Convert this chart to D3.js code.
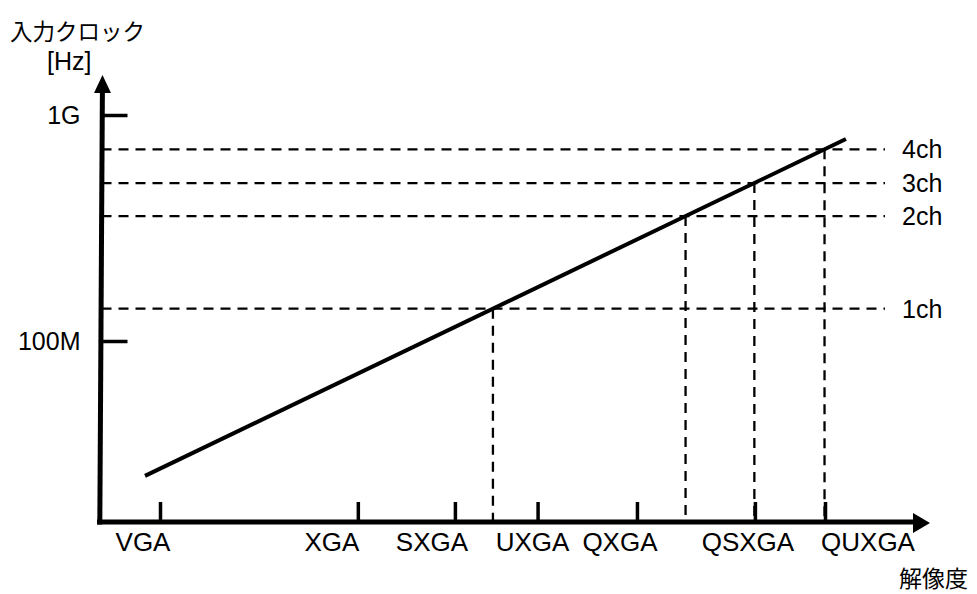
<!DOCTYPE html>
<html>
<head>
<meta charset="utf-8">
<script src="https://cdn.jsdelivr.net/npm/d3@7"></script>
<style>
  html, body { margin: 0; padding: 0; background: #fff; }
  svg { display: block; }
</style>
</head>
<body>
<svg id="chart" width="977" height="594"></svg>
<script>
// ---------- data ----------
const categories = ["VGA", "XGA", "SXGA", "UXGA", "QXGA", "QSXGA", "QUXGA"];
const categoryMegapixels = [0.307, 0.80, 1.28, 1.91, 3.09, 5.47, 7.68];
const channelLabels = ["1ch", "2ch", "3ch", "4ch"];
const channelMHz = [139, 357, 500, 705];
const yTickValues = [100, 1000];
const yTickLabels = ["100M", "1G"];
const clockLineMegapixels = [0.2855, 8.50];
const clockLineMHz = [25.3, 783];

// ---------- layout ----------
const W = 977, H = 594;
const LATIN = "'Liberation Sans', Arial, sans-serif";
const CJK = "'Noto Sans CJK JP', 'Noto Sans CJK SC', sans-serif";
const axisY = 522, axisX = 101.5;
const labelDx = [-17.5, -26.5, -23.5, -5.5, -17.5, -7.5, 42.5];

const svg = d3.select("#chart");
svg.append("rect").attr("width", W).attr("height", H).attr("fill", "#fff");

const x = d3.scaleLog().domain([categoryMegapixels[0], categoryMegapixels[6]]).range([160, 825]);
const y = d3.scaleLog().domain([100, 1000]).range([341, 115]);

// intersection of clock line with a frequency (linear in log-log space)
function lineXAt(f) {
  const l = Math.log10;
  const t = (l(f) - l(clockLineMHz[0])) / (l(clockLineMHz[1]) - l(clockLineMHz[0]));
  const lv = l(clockLineMegapixels[0]) + t * (l(clockLineMegapixels[1]) - l(clockLineMegapixels[0]));
  return Math.pow(10, lv);
}

// dashed horizontal lines
const dash = "10,7";
svg.append("g").selectAll("line.h").data(channelMHz).join("line")
  .attr("x1", axisX).attr("x2", 885)
  .attr("y1", d => y(d)).attr("y2", d => y(d))
  .attr("stroke", "#000").attr("stroke-width", 2.3).attr("stroke-dasharray", dash);

// dashed vertical drops
svg.append("g").selectAll("line.v").data(channelMHz).join("line")
  .attr("x1", d => x(lineXAt(d))).attr("x2", d => x(lineXAt(d)))
  .attr("y1", d => y(d)).attr("y2", axisY)
  .attr("stroke", "#000").attr("stroke-width", 2.3).attr("stroke-dasharray", dash);

// channel labels
svg.append("g").selectAll("text").data(channelMHz).join("text")
  .attr("x", 902).attr("y", d => y(d) + 9)
  .attr("font-family", LATIN).attr("font-size", 25).attr("fill", "#000")
  .text((d, i) => channelLabels[i]);

// clock line
const pts = clockLineMegapixels.map((v, i) => [x(v), y(clockLineMHz[i])]);
svg.append("path").attr("d", d3.line()(pts))
  .attr("stroke", "#000").attr("stroke-width", 4).attr("fill", "none");

// x axis (ticks + labels)
const xAxis = d3.axisBottom(x).tickValues(categoryMegapixels)
  .tickFormat((d, i) => categories[i]).tickSize(-20).tickPadding(11);
const gx = svg.append("g").attr("transform", `translate(0,${axisY})`).call(xAxis);
gx.select(".domain").remove();
gx.selectAll(".tick line").attr("stroke", "#000").attr("stroke-width", 3.5);
gx.selectAll(".tick text").attr("font-family", LATIN).attr("font-size", 26).attr("fill", "#000")
  .attr("x", (d, i) => labelDx[i]);

// y axis (ticks + labels)
const yAxis = d3.axisLeft(y).tickValues(yTickValues)
  .tickFormat((d, i) => yTickLabels[i]).tickSize(-26).tickPadding(21);
const gy = svg.append("g").attr("transform", `translate(${axisX},0)`).call(yAxis);
gy.select(".domain").remove();
gy.selectAll(".tick line").attr("stroke", "#000").attr("stroke-width", 3.5);
gy.selectAll(".tick text").attr("font-family", LATIN).attr("font-size", 25).attr("fill", "#000");

// axis shafts and arrowheads
svg.append("line").attr("x1", 97).attr("y1", axisY).attr("x2", 915).attr("y2", axisY)
  .attr("stroke", "#000").attr("stroke-width", 5);
svg.append("path").attr("d", "M930,523 L913,513 L913,533 Z").attr("fill", "#000");
svg.append("line").attr("x1", 99.8).attr("y1", 524.5).attr("x2", 102.4).attr("y2", 90)
  .attr("stroke", "#000").attr("stroke-width", 5);
svg.append("path").attr("d", "M102.5,75 L94,93 L111,93 Z").attr("fill", "#000");

// axis titles
svg.append("text").attr("x", 10).attr("y", 30).attr("dominant-baseline", "central")
  .attr("font-family", CJK).attr("font-size", 22.5).attr("fill", "#000").text("入力クロック");
svg.append("text").attr("x", 47).attr("y", 70)
  .attr("font-family", LATIN).attr("font-size", 25).attr("fill", "#000").text("[Hz]");
svg.append("text").attr("x", 899).attr("y", 577).attr("dominant-baseline", "central")
  .attr("font-family", CJK).attr("font-size", 23).attr("fill", "#000").text("解像度");
</script>
</body>
</html>
